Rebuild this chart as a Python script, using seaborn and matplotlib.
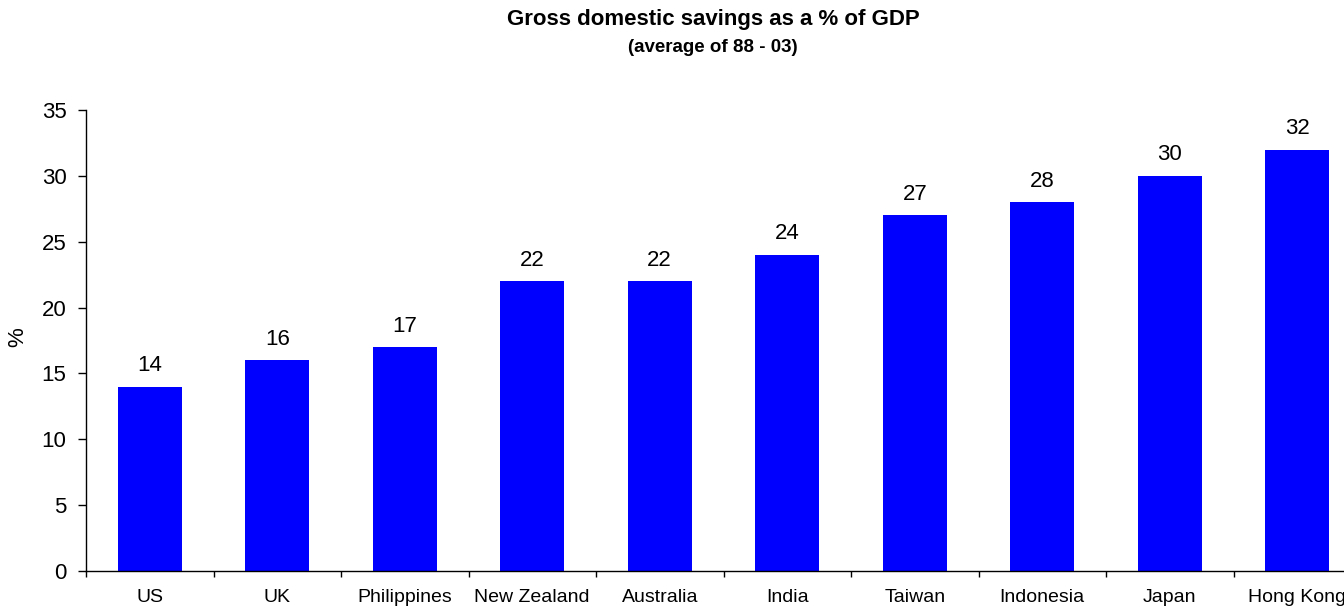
import matplotlib
matplotlib.use("Agg")
import matplotlib.pyplot as plt
import seaborn as sns
import numpy as np
import pandas as pd
from matplotlib.ticker import FixedLocator

countries = ["US", "UK", "Philippines", "New Zealand", "Australia", "India",
             "Taiwan", "Indonesia", "Japan", "Hong Kong"]
savings = [14, 16, 17, 22, 22, 24, 27, 28, 30, 32]
y_ticks = [0, 5, 10, 15, 20, 25, 30, 35]

sns.set_theme(style="white")
plt.rcParams['font.family'] = ['Liberation Sans', 'DejaVu Sans']
plt.rcParams['text.color'] = 'black'
plt.rcParams['axes.labelcolor'] = 'black'
plt.rcParams['xtick.color'] = 'black'
plt.rcParams['ytick.color'] = 'black'

df = pd.DataFrame({"country": countries, "savings": savings})

fig = plt.figure(figsize=(13.44, 6.10), dpi=100)
ax = fig.add_axes([86/1344, 39/610, 1275/1344, 461/610])

sns.barplot(data=df, x="country", y="savings", color="#0000FF", width=0.5,
            saturation=1, ax=ax, edgecolor="none")

ax.set_xlim(-0.5, len(countries) - 0.5)
ax.set_ylim(0, 35)
ax.set_yticks(y_ticks)
ax.set_yticklabels([str(t) for t in y_ticks], fontsize=16)
ax.tick_params(axis='y', direction='out', length=6, width=1, color='black',
               labelcolor='black', left=True, pad=8)
ax.tick_params(axis='x', which='major', length=0, labelsize=14, labelcolor='black', pad=13)
ax.xaxis.set_minor_locator(FixedLocator(np.arange(-0.5, len(countries), 1.0)))
ax.tick_params(axis='x', which='minor', direction='out', length=4.5, width=1,
               color='black', bottom=True)

for s in ["top", "right"]:
    ax.spines[s].set_visible(False)
for s in ["left", "bottom"]:
    ax.spines[s].set_color("black")
    ax.spines[s].set_linewidth(1)

ax.set_xlabel("")
ax.set_ylabel("%", fontsize=16, color="black", va="center")
ax.yaxis.set_label_coords((18 - 86) / 1275, (571 - 337) / 461)

for i, v in enumerate(savings):
    ax.annotate(str(v), xy=(i, v), xytext=(0, 7.5), textcoords="offset points",
                ha="center", va="bottom", fontsize=16, color="black")

fig.text(713/1344, 1 - 20/610, "Gross domestic savings as a % of GDP", ha="center", va="center",
         fontsize=16, fontweight="bold", color="black")
fig.text(713/1344, 1 - 47/610, "(average of 88 - 03)", ha="center", va="center",
         fontsize=13.5, fontweight="bold", color="black")

fig.savefig("out.png", dpi=100)
